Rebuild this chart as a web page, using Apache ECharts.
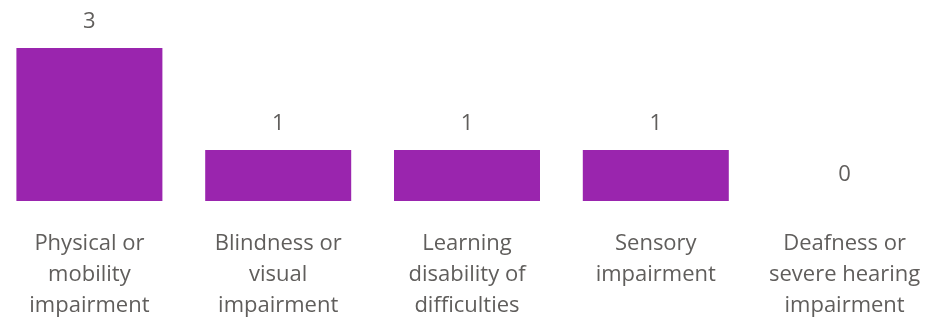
<!DOCTYPE html>
<html>
<head>
<meta charset="utf-8">
<script src="https://cdn.jsdelivr.net/npm/echarts@6/dist/echarts.min.js"></script>
<style>
  html, body { margin: 0; padding: 0; background: #fff; overflow: hidden; }
  #chart { width: 944px; height: 321px; margin-left: -5px; }
</style>
</head>
<body>
<div id="chart"></div>
<script>
// Disability categories (line breaks as they wrap under each bar)
const categories = [
  'Physical or\nmobility\nimpairment',
  'Blindness or\nvisual\nimpairment',
  'Learning\ndisability of\ndifficulties',
  'Sensory\nimpairment',
  'Deafness or\nsevere hearing\nimpairment'
];
const counts = [3, 1, 1, 1, 0];

const chart = echarts.init(document.getElementById('chart'), null, { renderer: 'canvas' });
const textColor = '#605E5C';
const fontFamily = '"Open Sans", "Noto Sans", sans-serif';

chart.setOption({
  animation: false,
  grid: { left: 0, right: 0, top: 48, bottom: 118, containLabel: false },
  xAxis: {
    type: 'category',
    data: categories,
    axisLine: { show: false },
    axisTick: { show: false },
    axisLabel: {
      interval: 0,
      color: textColor,
      fontFamily: fontFamily,
      fontSize: 22,
      lineHeight: 31,
      margin: 27
    }
  },
  yAxis: {
    type: 'value',
    min: 0,
    max: 3,
    show: false,
    splitLine: { show: false }
  },
  series: [{
    type: 'bar',
    data: counts,
    barWidth: 146,
    itemStyle: { color: '#9A25AE' },
    label: {
      show: true,
      position: 'top',
      distance: 15,
      color: textColor,
      fontFamily: fontFamily,
      fontSize: 22
    }
  }]
});
</script>
</body>
</html>
